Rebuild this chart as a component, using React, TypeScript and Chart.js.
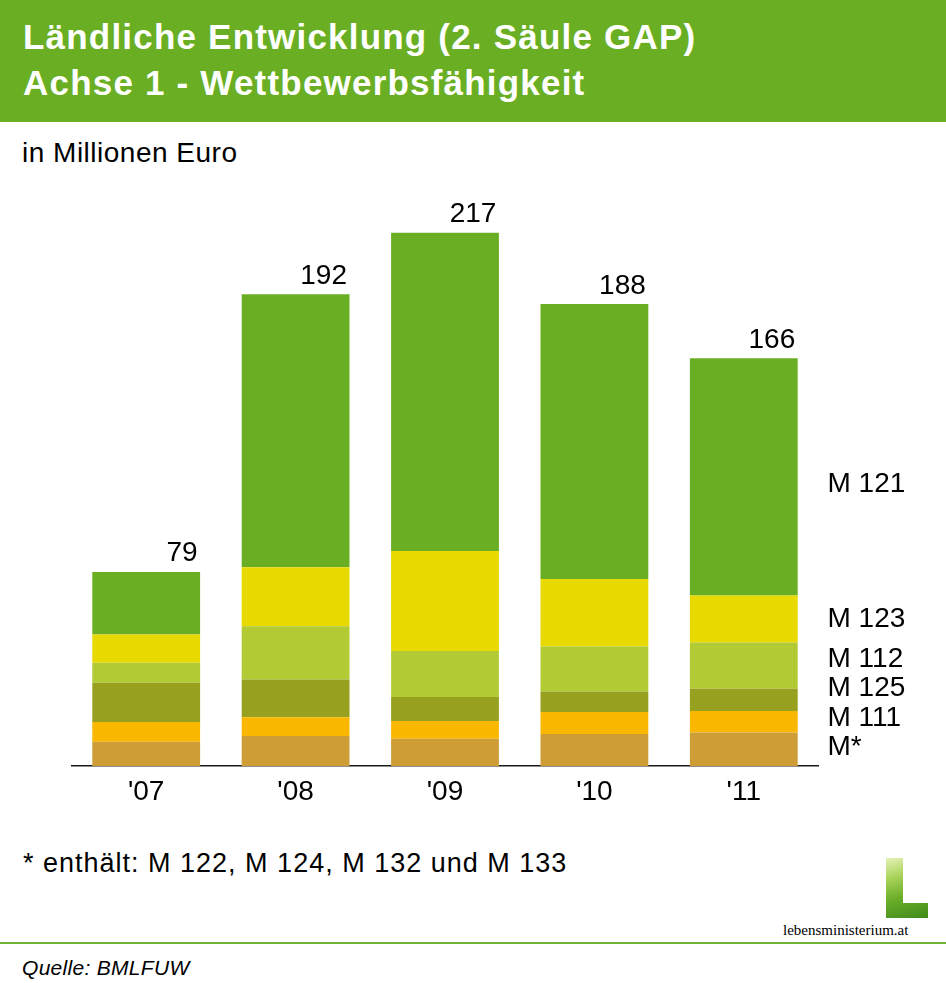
import { useEffect, useRef } from "react";
import { Chart, registerables } from "chart.js";

Chart.register(...registerables);

const FONT = "'Liberation Sans', Arial, Helvetica, sans-serif";

// values in Mio. Euro (bottom to top)
const years = ["'07", "'08", "'09", "'10", "'11"];
const totals = [79, 192, 217, 188, 166];
const measures = ["M*", "M 111", "M 125", "M 112", "M 123", "M 121"];
const mStar = [9.9, 12.2, 11.1, 13.0, 13.6];
const m111 = [8.0, 7.6, 7.2, 9.0, 8.8];
const m125 = [16.0, 15.4, 9.8, 8.3, 9.0];
const m112 = [8.1, 21.7, 18.7, 18.3, 18.9];
const m123 = [11.5, 24.0, 40.7, 27.5, 19.1];
const m121 = [25.5, 111.1, 129.5, 111.9, 96.6];
const series = [mStar, m111, m125, m112, m123, m121];
const colors = ["#CE9D36", "#FAB700", "#97A01F", "#B2CA33", "#E8D900", "#6AAF23"];

// totals above bars + measure names beside the last bar
const labelsPlugin = {
  id: "barLabels",
  afterDatasetsDraw(chart: any) {
    const { ctx } = chart;
    ctx.save();
    ctx.fillStyle = "#000";
    ctx.font = `28px ${FONT}`;

    const topMeta = chart.getDatasetMeta(chart.data.datasets.length - 1);
    ctx.textAlign = "right";
    ctx.textBaseline = "alphabetic";
    topMeta.data.forEach((bar: any, i: number) => {
      const { x, y, width } = bar.getProps(["x", "y", "width"], true);
      ctx.fillText(String(totals[i]), x + width / 2 - 2.5, y - 10.5);
    });

    ctx.textAlign = "left";
    ctx.textBaseline = "middle";
    const last = years.length - 1;
    const n = chart.data.datasets.length;
    let prev = Infinity;
    chart.data.datasets.forEach((_ds: any, d: number) => {
      const bar = chart.getDatasetMeta(d).data[last];
      const { y, base } = bar.getProps(["y", "base"], true);
      let cy = (y + base) / 2;
      if (d === 0) cy -= 2;
      if (d === n - 1) cy += 7;
      cy = Math.min(cy, prev - 29.5);
      prev = cy;
      ctx.fillText(measures[d], chart.chartArea.right + 9, cy);
    });
    ctx.restore();
  },
};

function BarChart() {
  const canvasRef = useRef<HTMLCanvasElement | null>(null);

  useEffect(() => {
    if (!canvasRef.current) return;
    const chart = new Chart(canvasRef.current, {
      type: "bar",
      data: {
        labels: years,
        datasets: series.map((data, i) => ({
          label: measures[i],
          data,
          backgroundColor: colors[i],
          borderWidth: 0,
          barPercentage: 1,
          categoryPercentage: 0.7216,
        })),
      },
      options: {
        responsive: true,
        maintainAspectRatio: false,
        animation: false,
        layout: { padding: { top: 20.9, left: 71.5, right: 127.5, bottom: 0 } },
        scales: {
          x: {
            stacked: true,
            z: 1,
            grid: { display: false, drawTicks: false },
            border: { display: true, color: "#1a1a1a", width: 1.5 },
            ticks: { color: "#000", font: { family: FONT, size: 28 }, padding: 9 },
            afterFit: (scale: any) => {
              scale.height = 60;
            },
          },
          y: { stacked: true, display: false, min: 0, max: 230 },
        },
        plugins: {
          legend: { display: false },
          tooltip: { enabled: false },
        },
      },
      plugins: [labelsPlugin],
    });

    return () => {
      chart.destroy();
    };
  }, []);

  return <canvas ref={canvasRef} />;
}

export default function App() {
  useEffect(() => {
    document.body.style.margin = "0";
  }, []);

  return (
    <div style={{ position: "relative", width: 946, height: 983, background: "#fff", overflow: "hidden", fontFamily: FONT }}>
      <div style={{ position: "absolute", left: 0, top: 0, width: 946, height: 122, background: "#6AAF23" }} />
      <div
        style={{
          position: "absolute",
          left: 23,
          top: 14,
          color: "#fff",
          fontWeight: "bold",
          fontSize: 35,
          lineHeight: "46px",
          letterSpacing: "1.2px",
          whiteSpace: "nowrap",
        }}
      >
        Ländliche Entwicklung (2. Säule GAP)
        <br />
        Achse 1 - Wettbewerbsfähigkeit
      </div>
      <div
        style={{
          position: "absolute",
          left: 22,
          top: 138.6,
          fontSize: 28,
          lineHeight: "28px",
          letterSpacing: "0.5px",
          color: "#000",
          whiteSpace: "nowrap",
        }}
      >
        in Millionen Euro
      </div>

      <div style={{ position: "absolute", left: 0, top: 180, width: 946, height: 646 }}>
        <BarChart />
      </div>

      <div
        style={{
          position: "absolute",
          left: 23,
          top: 849.5,
          fontSize: 27,
          lineHeight: "27px",
          letterSpacing: "1px",
          color: "#000",
          whiteSpace: "nowrap",
        }}
      >
        * enthält: M 122, M 124, M 132 und M 133
      </div>

      <div
        style={{
          position: "absolute",
          left: 886,
          top: 858,
          width: 42,
          height: 60,
          clipPath: "polygon(0 0, 17px 0, 17px 45px, 42px 45px, 42px 60px, 0 60px)",
          background: "linear-gradient(165deg, #e4f2b8 0%, #a9d35a 30%, #6cae2a 60%, #3f8a1a 100%)",
        }}
      />
      <div
        style={{
          position: "absolute",
          left: 783,
          top: 923,
          fontFamily: "'Liberation Serif', 'Times New Roman', serif",
          fontSize: 15,
          lineHeight: "15px",
          color: "#000",
          whiteSpace: "nowrap",
        }}
      >
        lebensministerium.at
      </div>
      <div style={{ position: "absolute", left: 0, top: 942, width: 946, height: 2, background: "#72B234" }} />
      <div
        style={{
          position: "absolute",
          left: 22,
          top: 957,
          fontSize: 21,
          lineHeight: "21px",
          letterSpacing: "0.3px",
          fontStyle: "italic",
          color: "#000",
          whiteSpace: "nowrap",
        }}
      >
        Quelle: BMLFUW
      </div>
    </div>
  );
}
